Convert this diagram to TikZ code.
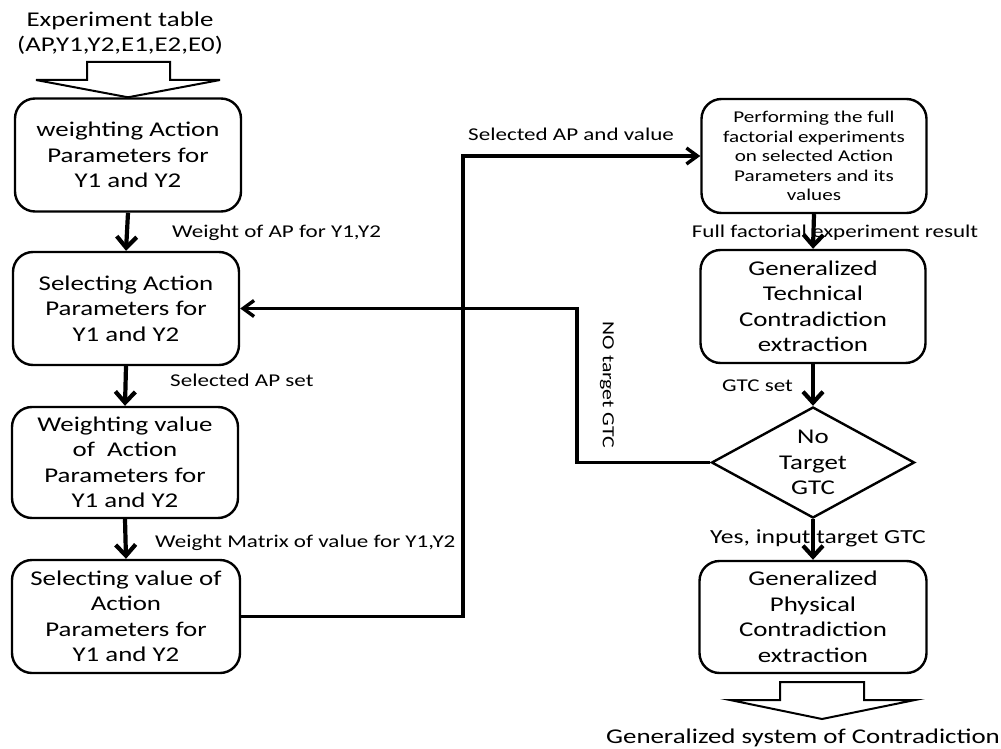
\documentclass[tikz,border=0pt]{standalone}
\usepackage{fontspec}
\setmainfont{Carlito}[FakeStretch=1.28]
\usetikzlibrary{arrows.meta,shapes.geometric}
\def\boxfont{\fontsize{21}{25.5}\selectfont}
\def\smallboxfont{\fontsize{16.5}{19.5}\selectfont}
\def\labelfont{\fontsize{18}{22}\selectfont}
\tikzset{
  flowbox/.style={draw, line width=2.4pt, rounded corners=20pt, align=center, inner sep=0pt,
    minimum width=226pt, minimum height=113pt, font=\boxfont},
  flowarrow/.style={line width=4.2pt, -{Straight Barb[length=11pt,width=20pt]}},
  flowlink/.style={line width=3.4pt, line join=miter, -{Straight Barb[length=11pt,width=16pt]}},
  flowlabel/.style={inner sep=0pt, font=\labelfont},
  hollowarrow/.style={draw, line width=2pt, fill=white, line join=miter}
}

\begin{document}
\begin{tikzpicture}[x=1pt, y=-1pt]
%%%%% START %%%%%
\useasboundingbox (0,0) rectangle (1001,749);

% left column
\node[flowbox] (weightap) at (128,155) {weighting Action\\Parameters for\\Y1 and Y2};
\node[flowbox] (selap) at (126,308.5) {Selecting Action\\Parameters for\\Y1 and Y2};
\node[flowbox, minimum height=111pt] (weightval) at (125,462.5) {Weighting value\\of \ Action\\Parameters for\\Y1 and Y2};
\node[flowbox, minimum width=228pt] (selval) at (126,616.5) {Selecting value of\\Action\\Parameters for\\Y1 and Y2};

% right column
\node[flowbox, minimum width=225pt, minimum height=114pt, font=\smallboxfont] (fullfact) at (814,156)
  {Performing the full\\factorial experiments\\on selected Action\\Parameters and its\\values};
\node[flowbox, minimum width=225pt] (gtcext) at (813,306.5) {Generalized\\Technical\\Contradiction\\extraction};
\node[draw, diamond, line width=2.4pt, minimum width=203pt, minimum height=111pt, inner sep=0pt] (notarget) at (813,462.5) {};
\node[align=center, inner sep=0pt, font=\boxfont] (notargettext) at (notarget) {No\\Target\\GTC};
\node[flowbox, minimum width=227pt, minimum height=112pt] (gpcext) at (813,617) {Generalized\\Physical\\Contradiction\\extraction};

% input and output
\node[align=center, inner sep=0pt, font=\boxfont] (exptable) at (120,33) {Experiment table\\(AP,Y1,Y2,E1,E2,E0)};
\draw[hollowarrow] (87,62) -- (170,62) -- (170,80) -- (220,80) -- (weightap.north) -- (36,80) -- (87,80) -- cycle;
\draw[hollowarrow] (780,682) -- (864,682) -- (864,700) -- (915,700) -- (822,719) -- (730,700) -- (780,700) -- cycle;
\node[inner sep=0pt, font=\boxfont, anchor=base] (gensys) at (803,743) {Generalized system of Contradiction};

% labels
\node[flowlabel, anchor=base west] (lblweight) at (172,237) {Weight of AP for Y1,Y2};
\node[flowlabel, anchor=base west] (lblapset) at (170,386) {Selected AP set};
\node[flowlabel, anchor=base west] (lblmatrix) at (155,547) {Weight Matrix of value for Y1,Y2};
\node[flowlabel, anchor=base west] (lblapval) at (468,140) {Selected AP and value};
\node[flowlabel, anchor=base] (lblresult) at (835,237) {Full factorial experiment result};
\node[flowlabel, anchor=base west] (lblgtcset) at (722,391) {GTC set};
\node[flowlabel, anchor=base west, font=\fontsize{20}{23}\selectfont] (lblyes) at (710,543) {Yes, input target GTC};
\node[flowlabel, rotate=-90, font=\fontsize{17}{20}\selectfont] (lblno) at (607,385) {NO target GTC};

% arrows
\draw[flowarrow] (weightap.south) -- (selap.north);
\draw[flowarrow] (selap.south) -- (weightval.north);
\draw[flowarrow] (weightval.south) -- (selval.north);
\draw[flowarrow] (fullfact.south) -- (gtcext.north);
\draw[flowarrow] (gtcext.south) -- (notarget.north);
\draw[flowarrow] (notarget.south) -- (gpcext.north);

\coordinate (bendA) at (463,400);
\draw[flowlink] (selval.east) -| (bendA) |- (fullfact.west);
\coordinate (bendB) at (577,400);
\draw[flowlink] (notarget.west) -| (bendB) |- (selap.east);
%%%%% END %%%%%
\end{tikzpicture}
\end{document}
